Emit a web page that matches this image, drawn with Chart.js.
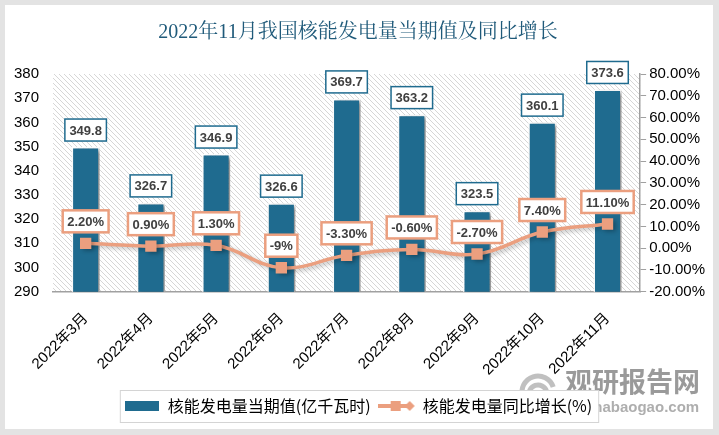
<!DOCTYPE html>
<html lang="zh">
<head>
    <meta charset="UTF-8">
    <title>2022年11月我国核能发电量当期值及同比增长</title>
    <script src="https://cdn.jsdelivr.net/npm/chart.js"></script>
    <style>
        html, body { margin: 0; padding: 0; background: #e3e3e3; }
        .card { position: absolute; left: 5px; top: 5px; width: 708px; height: 424px; background: #fff; }
    </style>
</head>
<body>
    <div class="card">
        <canvas id="nuclearChart" width="708" height="424"></canvas>
    </div>

    <script>
        const months = ['2022年3月', '2022年4月', '2022年5月', '2022年6月', '2022年7月',
                        '2022年8月', '2022年9月', '2022年10月', '2022年11月'];
        const output = [349.8, 326.7, 346.9, 326.6, 369.7, 363.2, 323.5, 360.1, 373.6];
        const growth = [2.2, 0.9, 1.3, -9, -3.3, -0.6, -2.7, 7.4, 11.1];
        const growthLabels = ['2.20%', '0.90%', '1.30%', '-9%', '-3.30%', '-0.60%', '-2.70%', '7.40%', '11.10%'];

        const BAR = '#1f6b8f';
        const ORANGE = '#eb9f7f';
        const SANS = '"Liberation Sans", "Noto Sans CJK SC", sans-serif';

        // diagonal hatch for the plot background
        function makeHatch() {
            const c = document.createElement('canvas');
            c.width = 5; c.height = 5;
            const g = c.getContext('2d');
            g.fillStyle = '#fff';
            g.fillRect(0, 0, 5, 5);
            g.strokeStyle = '#d6d6d6';
            g.lineWidth = 1;
            g.beginPath();
            g.moveTo(-1, -1); g.lineTo(6, 6);
            g.moveTo(-1, 4); g.lineTo(1, 6);
            g.moveTo(4, -1); g.lineTo(6, 1);
            g.stroke();
            return c;
        }

        // legend symbols
        function barSymbol() {
            const c = document.createElement('canvas');
            c.width = 34; c.height = 10;
            const g = c.getContext('2d');
            g.fillStyle = BAR;
            g.fillRect(0, 0, 34, 10);
            return c;
        }
        function lineSymbol() {
            const c = document.createElement('canvas');
            c.width = 38; c.height = 12;
            const g = c.getContext('2d');
            g.strokeStyle = ORANGE;
            g.lineWidth = 4;
            g.beginPath(); g.moveTo(0, 6); g.lineTo(32, 6); g.stroke();
            g.fillStyle = ORANGE;
            g.fillRect(13, 1, 10, 10);
            g.beginPath();
            g.moveTo(32, 1); g.lineTo(37, 6); g.lineTo(32, 11); g.lineTo(27, 6); g.closePath();
            g.fill();
            return c;
        }

        const hatch = makeHatch();
        const symbols = [barSymbol(), lineSymbol()];

        function labelBox(ctx, cx, bottom, text, border, lw) {
            ctx.font = 'bold 13px ' + SANS;
            const w = ctx.measureText(text).width + 9;
            const h = 22;
            const x = cx - w / 2, y = bottom - h;
            ctx.fillStyle = '#fff';
            ctx.fillRect(x, y, w, h);
            ctx.strokeStyle = border;
            ctx.lineWidth = lw;
            ctx.strokeRect(x, y, w, h);
            ctx.fillStyle = '#404040';
            ctx.textAlign = 'center';
            ctx.textBaseline = 'middle';
            ctx.fillText(text, cx, y + h / 2 + 1);
        }

        const decor = {
            id: 'decor',
            beforeDraw(chart) {
                const { ctx, chartArea: a } = chart;
                ctx.save();
                ctx.fillStyle = ctx.createPattern(hatch, 'repeat');
                ctx.fillRect(a.left, a.top, a.right - a.left, a.bottom - a.top);

                // watermark
                ctx.fillStyle = 'rgba(120,120,120,0.75)';
                ctx.font = 'bold 27px "Noto Sans CJK SC", sans-serif';
                ctx.textAlign = 'left';
                ctx.textBaseline = 'middle';
                ctx.fillText('观研报告网', 560, 377);
                ctx.font = 'bold 15px ' + SANS;
                ctx.fillStyle = 'rgba(140,140,140,0.7)';
                ctx.fillText('www.chinabaogao.com', 528, 403);
                ctx.strokeStyle = 'rgba(150,150,150,0.6)';
                ctx.lineWidth = 5;
                ctx.beginPath(); ctx.arc(533, 387, 16, Math.PI * 0.9, Math.PI * 1.9); ctx.stroke();
                ctx.beginPath(); ctx.arc(533, 389, 9, Math.PI * 0.9, Math.PI * 1.9); ctx.stroke();

                // legend frame
                const boxes = chart.legend.legendHitBoxes;
                if (boxes && boxes.length) {
                    const l = Math.min(...boxes.map(b => b.left)) - 4;
                    const r = Math.max(...boxes.map(b => b.left + b.width)) + 6;
                    const t = boxes[0].top - 8;
                    const h = boxes[0].height + 16;
                    ctx.fillStyle = '#fff';
                    ctx.fillRect(l, t, r - l, h);
                    ctx.strokeStyle = '#d4d4d4';
                    ctx.lineWidth = 1;
                    ctx.strokeRect(l + 0.5, t + 0.5, r - l, h);
                }
                ctx.restore();
            },
            beforeDatasetDraw(chart, args) {
                const ctx = chart.ctx;
                ctx.save();
                ctx.shadowColor = args.index === 0 ? 'rgba(0,0,0,0.45)' : 'rgba(0,0,0,0.25)';
                ctx.shadowBlur = 4;
                ctx.shadowOffsetX = 3;
                ctx.shadowOffsetY = 2;
            },
            afterDatasetDraw(chart) {
                chart.ctx.restore();
            },
            afterDatasetsDraw(chart) {
                const ctx = chart.ctx;
                ctx.save();
                chart.getDatasetMeta(0).data.forEach((el, i) => {
                    labelBox(ctx, el.x, el.y - 6, output[i].toFixed(1), BAR, 1.5);
                });
                chart.getDatasetMeta(1).data.forEach((el, i) => {
                    labelBox(ctx, el.x, el.y - 11, growthLabels[i], ORANGE, 2.5);
                });
                ctx.restore();
            }
        };

        const ctx = document.getElementById('nuclearChart').getContext('2d');
        new Chart(ctx, {
            data: {
                labels: months,
                datasets: [
                    {
                        type: 'bar',
                        label: '核能发电量当期值(亿千瓦时)',
                        data: output,
                        yAxisID: 'y',
                        backgroundColor: BAR,
                        borderColor: '#fff',
                        borderWidth: 1.5,
                        barPercentage: 0.43,
                        categoryPercentage: 1,
                        order: 2
                    },
                    {
                        type: 'line',
                        label: '核能发电量同比增长(%)',
                        data: growth,
                        yAxisID: 'y1',
                        borderColor: ORANGE,
                        backgroundColor: ORANGE,
                        borderWidth: 3.5,
                        tension: 0.4,
                        pointStyle: 'rect',
                        pointRadius: 8,
                        pointBackgroundColor: ORANGE,
                        pointBorderWidth: 0,
                        order: 1
                    }
                ]
            },
            options: {
                responsive: false,
                animation: false,
                layout: { padding: { left: 3, right: 5, bottom: 5 } },
                plugins: {
                    title: {
                        display: true,
                        text: '2022年11月我国核能发电量当期值及同比增长',
                        color: '#1f5a7a',
                        font: { family: '"Liberation Serif", "Noto Serif CJK SC", "Noto Sans CJK SC", serif', size: 20, weight: 'normal' },
                        padding: { top: 16, bottom: 29 }
                    },
                    legend: {
                        position: 'bottom',
                        labels: {
                            usePointStyle: true,
                            pointStyleWidth: 36,
                            color: '#000',
                            font: { family: '"Noto Sans CJK SC", sans-serif', size: 16 },
                            padding: 8,
                            generateLabels(chart) {
                                return chart.data.datasets.map((ds, i) => ({
                                    text: ds.label,
                                    pointStyle: symbols[i],
                                    fillStyle: ORANGE,
                                    strokeStyle: ORANGE,
                                    lineWidth: 0,
                                    fontColor: '#000',
                                    datasetIndex: i
                                }));
                            }
                        }
                    },
                    tooltip: { enabled: false }
                },
                scales: {
                    x: {
                        grid: { display: false },
                        border: { color: '#a0a0a0', width: 1.5 },
                        ticks: {
                            color: '#000',
                            font: { family: SANS, size: 15 },
                            maxRotation: 45,
                            minRotation: 45,
                            padding: 10
                        },
                        afterFit(scale) { scale.height += 1; }
                    },
                    y: {
                        position: 'left',
                        min: 290,
                        max: 380,
                        grid: { display: false },
                        border: { display: false },
                        ticks: {
                            stepSize: 10,
                            color: '#000',
                            font: { family: SANS, size: 15 },
                            padding: 6
                        }
                    },
                    y1: {
                        position: 'right',
                        min: -20,
                        max: 80,
                        grid: { drawOnChartArea: false, drawTicks: true, tickLength: 6, color: '#a0a0a0' },
                        border: { display: true, color: '#a0a0a0', width: 1.5 },
                        ticks: {
                            stepSize: 10,
                            color: '#000',
                            font: { family: SANS, size: 15 },
                            padding: 3,
                            callback: v => v.toFixed(2) + '%'
                        }
                    }
                }
            },
            plugins: [decor]
        });
    </script>
</body>
</html>
